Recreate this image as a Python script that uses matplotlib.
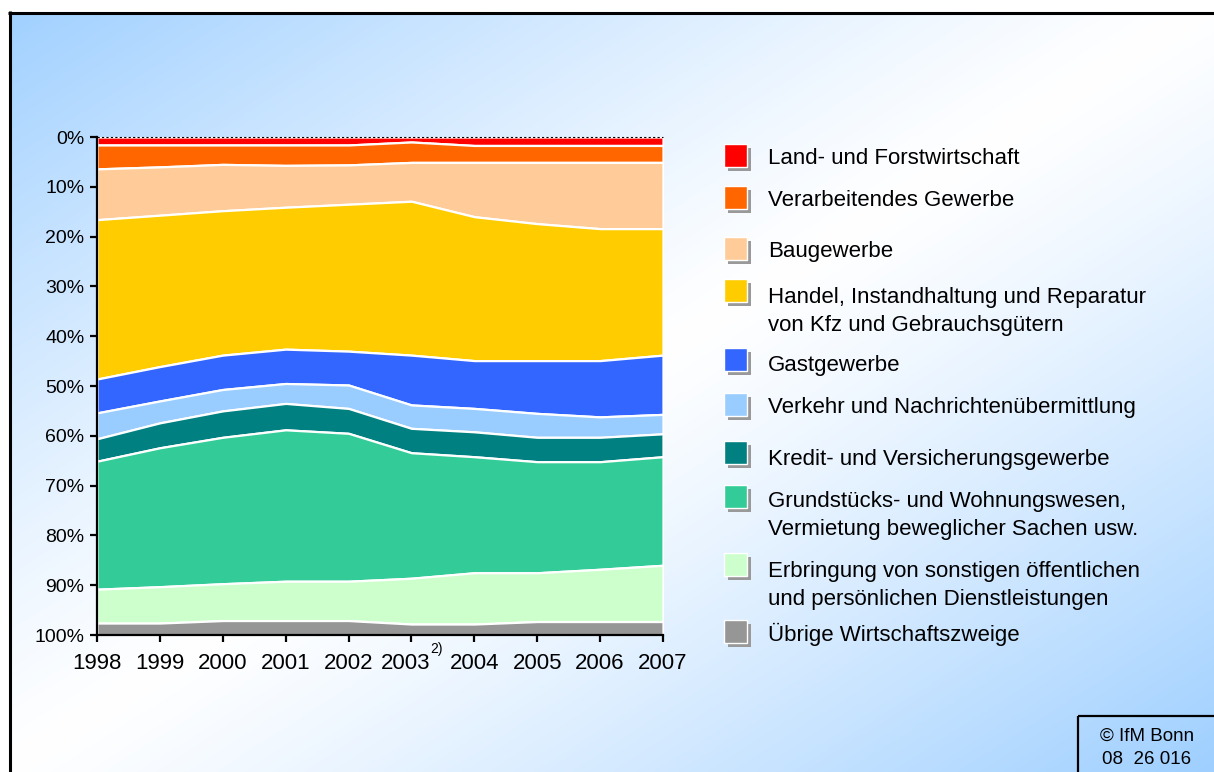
import numpy as np
import matplotlib
matplotlib.use('Agg')
import matplotlib.pyplot as plt
from matplotlib.patches import Rectangle
from matplotlib.transforms import ScaledTranslation

plt.rcParams['font.family'] = ['Liberation Sans', 'DejaVu Sans']

# data: share of sector in % per year
years = [1998, 1999, 2000, 2001, 2002, 2003, 2004, 2005, 2006, 2007]
year_labels = ['1998', '1999', '2000', '2001', '2002', '2003',
               '2004', '2005', '2006', '2007']

land      = [1.6, 1.6, 1.6, 1.6, 1.6, 1.0, 1.7, 1.7, 1.7, 1.7]
verarb    = [4.8, 4.4, 3.9, 4.1, 4.0, 4.1, 3.4, 3.4, 3.4, 3.4]
bau       = [10.2, 9.7, 9.3, 8.4, 7.9, 7.8, 10.9, 12.3, 13.3, 13.3]
handel    = [32.0, 30.4, 29.0, 28.5, 29.5, 30.9, 28.9, 27.5, 26.5, 25.4]
gast      = [6.8, 6.9, 6.9, 6.9, 6.8, 10.0, 9.6, 10.6, 11.3, 11.9]
verkehr   = [5.2, 4.4, 4.3, 4.0, 4.7, 4.7, 4.7, 4.8, 4.1, 3.9]
kredit    = [4.5, 5.0, 5.3, 5.3, 5.0, 4.9, 5.0, 4.9, 4.9, 4.6]
grund     = [25.7, 27.9, 29.4, 30.4, 29.7, 25.2, 23.3, 22.3, 21.6, 21.8]
erbring   = [6.8, 7.3, 7.4, 7.9, 7.9, 9.2, 10.3, 9.8, 10.5, 11.3]
uebrige   = [2.4, 2.4, 2.9, 2.9, 2.9, 2.2, 2.2, 2.7, 2.7, 2.7]

sectors = [
    'Land- und Forstwirtschaft',
    'Verarbeitendes Gewerbe',
    'Baugewerbe',
    'Handel, Instandhaltung und Reparatur\nvon Kfz und Gebrauchsgütern',
    'Gastgewerbe',
    'Verkehr und Nachrichtenübermittlung',
    'Kredit- und Versicherungsgewerbe',
    'Grundstücks- und Wohnungswesen,\nVermietung beweglicher Sachen usw.',
    'Erbringung von sonstigen öffentlichen\nund persönlichen Dienstleistungen',
    'Übrige Wirtschaftszweige',
]
colors = ['#FF0000', '#FF6600', '#FFCC99', '#FFCC00', '#3366FF',
          '#99CCFF', '#008080', '#33CC99', '#CCFFCC', '#969696']
shares = [land, verarb, bau, handel, gast, verkehr, kredit, grund, erbring, uebrige]

W, H = 1214, 772
fig = plt.figure(figsize=(W / 100, H / 100), dpi=100)

# background gradient (blue - white - blue along the diagonal)
xx, yy = np.meshgrid(np.arange(W), np.arange(H))
t = (xx / W + yy / H) / 2
w = np.abs(2 * t - 1) ** 1.2
blue = np.array([158, 207, 255]) / 255
white = np.array([1.0, 1.0, 1.0])
img = white * (1 - w[..., None]) + blue * w[..., None]
img[(xx < 10) | (yy < 13)] = 1.0
ax_bg = fig.add_axes([0, 0, 1, 1], zorder=0)
ax_bg.imshow(img, extent=(0, W, H, 0), aspect='auto', interpolation='bilinear')
ax_bg.axis('off')

# stacked area chart
ax = fig.add_axes([97 / W, 1 - 635 / H, 566 / W, 498 / H], zorder=1)
ax.set_facecolor('white')
lower = np.zeros(len(years))
for vals, c in zip(shares, colors):
    upper = lower + np.array(vals)
    ax.fill_between(years, lower, upper, facecolor=c, edgecolor='white', linewidth=1.6)
    lower = upper
ax.plot(years, np.zeros(len(years)), color='black', ls=(0, (2, 2)), lw=0.8,
        clip_on=False, zorder=5)

ax.set_xlim(1998, 2007)
ax.set_ylim(100, 0)
ax.set_yticks(range(0, 101, 10))
ax.set_yticklabels([f'{v}%' for v in range(0, 101, 10)], fontsize=14)
ax.set_xticks(years)
ax.set_xticklabels(year_labels, fontsize=16)
for s in ['top', 'right']:
    ax.spines[s].set_visible(False)
for s in ['left', 'bottom']:
    ax.spines[s].set_linewidth(1.6)
ax.tick_params(axis='y', direction='out', length=5, width=1.6, pad=4)
ax.tick_params(axis='x', direction='out', length=5, width=1.6, pad=8)

# 2003 label sits a bit to the left to make room for the footnote marker
lbl = ax.get_xticklabels()[5]
lbl.set_transform(lbl.get_transform() + ScaledTranslation(-6 / 100, 0, fig.dpi_scale_trans))

# overlay in pixel coordinates: legend, frame, copyright
ov = fig.add_axes([0, 0, 1, 1], zorder=3)
ov.set_xlim(0, W)
ov.set_ylim(H, 0)
ov.axis('off')
ov.patch.set_alpha(0)

# footnote marker next to 2003
ov.text(430, 653, '2)', fontsize=10, ha='left', va='baseline')

box_tops = [144, 186, 237, 279, 348, 393, 441, 485, 553, 620]
text_centers = [157, 199, 250, 295, 364, 406, 457, 499, 570, 633]
for lab, c, bt, tc in zip(sectors, colors, box_tops, text_centers):
    ov.add_patch(Rectangle((728, bt + 4), 23, 23, facecolor='#999999', edgecolor='none'))
    ov.add_patch(Rectangle((724, bt), 23, 23, facecolor=c, edgecolor='white', lw=1))
    for k, line in enumerate(lab.split('\n')):
        ov.text(768, tc + k * 28 + 7.5, line, fontsize=16, va='baseline', ha='left')

ov.plot([8, W], [12.5, 12.5], color='black', lw=2.2, solid_capstyle='butt')
ov.plot([9.5, 9.5], [11, H], color='black', lw=2.2, solid_capstyle='butt')

ov.add_patch(Rectangle((1078, 716), 140, 60, fill=False, edgecolor='black', lw=1.6,
                       clip_on=False))
ov.text(1147, 736, '© IfM Bonn', fontsize=13.5, ha='center', va='center')
ov.text(1147, 760, '08  26 016', fontsize=13.5, ha='center', va='center')

fig.savefig('out.png', dpi=100)
